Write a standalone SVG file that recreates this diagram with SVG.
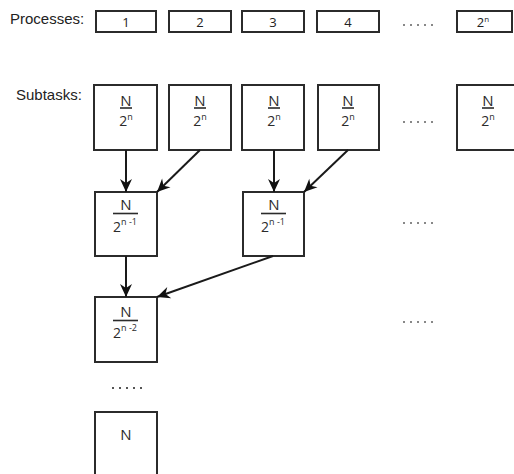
<svg xmlns="http://www.w3.org/2000/svg" width="514" height="474" viewBox="0 0 514 474">
  <style>
    .box { fill: #fff; stroke: #2b2b2b; stroke-width: 2; }
    .lbl { font-family: "Liberation Sans", Arial, sans-serif; font-size: 15px; fill: #222; }
    .num { font-family: "Open Sans", "DejaVu Sans", sans-serif; font-size: 13px; fill: #222; text-anchor: middle; }
    .frac { font-family: "Open Sans", "DejaVu Sans", sans-serif; font-size: 15px; fill: #2b2b2b; text-anchor: middle; }
    .bar { stroke: #2b2b2b; stroke-width: 1.6; }
    .dot { fill: #888; }
    .edge { stroke: #1a1a1a; stroke-width: 2; fill: none; marker-end: url(#head); }
  </style>
  <defs>
    <marker id="head" markerUnits="userSpaceOnUse" markerWidth="16" markerHeight="14" viewBox="-14 -7 16 14" refX="0" refY="0" orient="auto">
      <path d="M0,0 L-13,-6 L-9,0 L-13,6 Z" fill="#111"/>
    </marker>
    <g id="dots">
      <rect x="0" y="0" width="2" height="2"/>
      <rect x="7" y="0" width="2" height="2"/>
      <rect x="14" y="0" width="2" height="2"/>
      <rect x="21" y="0" width="2" height="2"/>
      <rect x="28" y="0" width="2" height="2"/>
    </g>
  </defs>

  <rect width="514" height="474" fill="#fff"/>

  <!-- row labels -->
  <text class="lbl" x="10" y="24">Processes:</text>
  <text class="lbl" x="16" y="100">Subtasks:</text>

  <!-- process boxes -->
  <g id="proc1"><rect class="box" x="96" y="11" width="60" height="21"/><text class="num" x="126" y="27">1</text></g>
  <g id="proc2"><rect class="box" x="169" y="11" width="62" height="21"/><text class="num" x="200" y="27">2</text></g>
  <g id="proc3"><rect class="box" x="242" y="11" width="62" height="21"/><text class="num" x="273" y="27">3</text></g>
  <g id="proc4"><rect class="box" x="317" y="11" width="62" height="21"/><text class="num" x="348" y="27">4</text></g>
  <g id="proc-dots" class="dot"><use href="#dots" x="403" y="24"/></g>
  <g id="procN"><rect class="box" x="457" y="11" width="55" height="21"/><text class="num" x="483" y="27">2<tspan font-size="8" dy="-5">n</tspan></text></g>

  <!-- leaf subtasks: N / 2^n -->
  <g id="task1">
    <rect class="box" x="94" y="85" width="63" height="65"/>
    <line class="bar" x1="120" y1="108" x2="132" y2="108"/>
    <text class="frac"><tspan x="126" y="106">N</tspan><tspan x="126" y="126" font-size="14">2</tspan><tspan font-size="9" dy="-6">n</tspan></text>
  </g>
  <g id="task2">
    <rect class="box" x="169" y="85" width="62" height="65"/>
    <line class="bar" x1="194" y1="108" x2="206" y2="108"/>
    <text class="frac"><tspan x="200" y="106">N</tspan><tspan x="200" y="126" font-size="14">2</tspan><tspan font-size="9" dy="-6">n</tspan></text>
  </g>
  <g id="task3">
    <rect class="box" x="242" y="85" width="62" height="65"/>
    <line class="bar" x1="268" y1="108" x2="280" y2="108"/>
    <text class="frac"><tspan x="274" y="106">N</tspan><tspan x="274" y="126" font-size="14">2</tspan><tspan font-size="9" dy="-6">n</tspan></text>
  </g>
  <g id="task4">
    <rect class="box" x="318" y="85" width="61" height="65"/>
    <line class="bar" x1="342" y1="108" x2="354" y2="108"/>
    <text class="frac"><tspan x="348" y="106">N</tspan><tspan x="348" y="126" font-size="14">2</tspan><tspan font-size="9" dy="-6">n</tspan></text>
  </g>
  <g id="task-dots" class="dot"><use href="#dots" x="403" y="121"/></g>
  <g id="taskN">
    <rect class="box" x="457" y="85" width="63" height="65"/>
    <line class="bar" x1="482" y1="108" x2="494" y2="108"/>
    <text class="frac"><tspan x="488" y="106">N</tspan><tspan x="488" y="126" font-size="14">2</tspan><tspan font-size="9" dy="-6">n</tspan></text>
  </g>

  <!-- second level: N / 2^(n-1) -->
  <g id="merge1">
    <rect class="box" x="95" y="192" width="62" height="64"/>
    <line class="bar" x1="113" y1="213.5" x2="138" y2="213.5"/>
    <text class="frac"><tspan x="126" y="210">N</tspan><tspan x="125" y="232" font-size="14">2</tspan><tspan font-size="9" dy="-7">n -1</tspan></text>
  </g>
  <g id="merge2">
    <rect class="box" x="243" y="192" width="61" height="64"/>
    <line class="bar" x1="261" y1="213.5" x2="286" y2="213.5"/>
    <text class="frac"><tspan x="274" y="210">N</tspan><tspan x="273" y="232" font-size="14">2</tspan><tspan font-size="9" dy="-7">n -1</tspan></text>
  </g>
  <g id="merge-dots" class="dot"><use href="#dots" x="403" y="222"/></g>

  <!-- third level: N / 2^(n-2) -->
  <g id="merge3">
    <rect class="box" x="95" y="297" width="62" height="65"/>
    <line class="bar" x1="113" y1="320.5" x2="138" y2="320.5"/>
    <text class="frac"><tspan x="126" y="317">N</tspan><tspan x="125" y="338" font-size="14">2</tspan><tspan font-size="9" dy="-7">n -2</tspan></text>
  </g>
  <g id="merge3-dots" class="dot"><use href="#dots" x="403" y="321"/></g>

  <!-- continuation and root -->
  <g id="root-dots" class="dot"><use href="#dots" x="112" y="387" fill="#555"/></g>
  <g id="root">
    <rect class="box" x="95" y="412" width="62" height="70"/>
    <text class="frac" x="126" y="440">N</text>
  </g>

  <!-- reduction connectors -->
  <g id="edges">
    <line class="edge" x1="126" y1="150" x2="126" y2="192"/>
    <line class="edge" x1="200" y1="150" x2="157" y2="192"/>
    <line class="edge" x1="274" y1="150" x2="274" y2="192"/>
    <line class="edge" x1="348" y1="150" x2="304" y2="192"/>
    <line class="edge" x1="126" y1="256" x2="126" y2="297"/>
    <line class="edge" x1="273" y1="256" x2="157" y2="297"/>
  </g>
</svg>
